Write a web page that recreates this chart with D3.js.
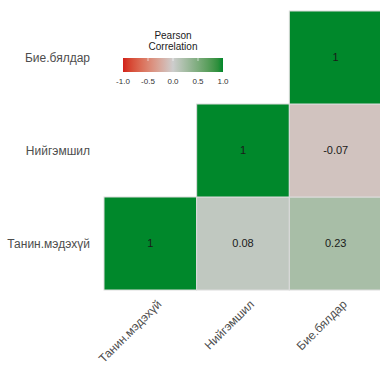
<!DOCTYPE html>
<html>
<head>
<meta charset="utf-8">
<script src="https://cdn.jsdelivr.net/npm/d3@7"></script>
<style>
  body { margin: 0; background: #fff; }
  text { font-family: "Liberation Sans", Arial, sans-serif; }
</style>
</head>
<body>
<svg width="380" height="365"></svg>
<script>
var svg = d3.select('svg');

// variables, bottom-to-top on y, left-to-right on x
var vars = ['Танин.мэдэхүй', 'Нийгэмшил', 'Бие.бялдар'];
// lower triangle of the correlation matrix (row var, col var, r)
var cells = [
    ['Танин.мэдэхүй', 'Танин.мэдэхүй', 1],
    ['Танин.мэдэхүй', 'Нийгэмшил', 0.08],
    ['Танин.мэдэхүй', 'Бие.бялдар', 0.23],
    ['Нийгэмшил', 'Нийгэмшил', 1],
    ['Нийгэмшил', 'Бие.бялдар', -0.07],
    ['Бие.бялдар', 'Бие.бялдар', 1]
];
var legendTicks = [-1, -0.5, 0, 0.5, 1];

var x = d3.scaleBand().domain(vars).range([104, 382]);
var y = d3.scaleBand().domain(vars).range([290, 11]);

var color = d3.scaleLinear()
    .domain([-1, 0, 1])
    .range(['#d2201a', '#cdcdcd', '#00882b'])
    .interpolate(d3.interpolateLab);

var fmt = function (v) { return v === 1 ? '1' : String(v); };

var cell = svg.selectAll('.cell')
    .data(cells)
    .enter()
    .append('g')
    .attr('class', 'cell');

cell.append('rect')
    .attr('x', function (d) { return x(d[1]); })
    .attr('y', function (d) { return y(d[0]); })
    .attr('width', x.bandwidth())
    .attr('height', y.bandwidth())
    .attr('fill', function (d) { return color(d[2]); })
    .attr('stroke', '#dcdcdc')
    .attr('stroke-width', 1);

cell.append('text')
    .attr('x', function (d) { return x(d[1]) + x.bandwidth() / 2; })
    .attr('y', function (d) { return y(d[0]) + y.bandwidth() / 2; })
    .attr('dy', '0.35em')
    .attr('text-anchor', 'middle')
    .attr('font-size', 11)
    .attr('fill', '#1a1a1a')
    .text(function (d) { return fmt(d[2]); });

// y axis labels
svg.selectAll('.ylab')
    .data(vars)
    .enter()
    .append('text')
    .attr('class', 'ylab')
    .attr('x', 90)
    .attr('y', function (d) { return y(d) + y.bandwidth() / 2; })
    .attr('dy', '0.35em')
    .attr('text-anchor', 'end')
    .attr('font-size', 12)
    .attr('fill', '#4d4d4d')
    .text(function (d) { return d; });

// x axis labels, rotated
svg.selectAll('.xlab')
    .data(vars)
    .enter()
    .append('text')
    .attr('class', 'xlab')
    .attr('transform', function (d) {
        return 'translate(' + (x(d) + x.bandwidth() / 2 + 6) + ',' + 299 + ') rotate(-45)';
    })
    .attr('dy', '0.7em')
    .attr('text-anchor', 'end')
    .attr('font-size', 12)
    .attr('fill', '#4d4d4d')
    .text(function (d) { return d; });

// legend
var lx = d3.scaleLinear().domain([-1, 1]).range([123, 223]);
var defs = svg.append('defs');
var grad = defs.append('linearGradient').attr('id', 'lg');
d3.range(0, 1.0001, 0.05).forEach(function (t) {
    grad.append('stop')
        .attr('offset', (t * 100) + '%')
        .attr('stop-color', color(-1 + 2 * t));
});

var legend = svg.append('g');
legend.append('text')
    .attr('x', 173).attr('y', 39)
    .attr('text-anchor', 'middle')
    .attr('font-size', 10)
    .attr('fill', '#1a1a1a')
    .text('Pearson');
legend.append('text')
    .attr('x', 173).attr('y', 50)
    .attr('text-anchor', 'middle')
    .attr('font-size', 10)
    .attr('fill', '#1a1a1a')
    .text('Correlation');
legend.append('rect')
    .attr('x', lx(-1)).attr('y', 58)
    .attr('width', lx(1) - lx(-1)).attr('height', 14)
    .attr('fill', 'url(#lg)');
legend.selectAll('.tk')
    .data(legendTicks.slice(1, -1))
    .enter()
    .append('line')
    .attr('x1', function (d) { return lx(d); })
    .attr('x2', function (d) { return lx(d); })
    .attr('y1', 58).attr('y2', 61)
    .attr('stroke', '#ffffff').attr('stroke-opacity', 0.6);
legend.selectAll('.tl')
    .data(legendTicks)
    .enter()
    .append('text')
    .attr('x', function (d) { return lx(d); })
    .attr('y', 84)
    .attr('text-anchor', 'middle')
    .attr('font-size', 8)
    .attr('fill', '#333333')
    .text(function (d) { return d.toFixed(1); });
</script>
</body>
</html>
